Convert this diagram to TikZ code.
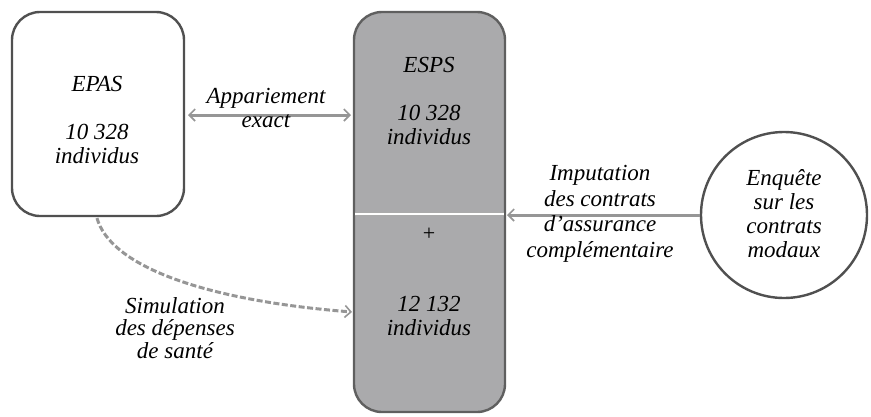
\documentclass[tikz,border=0pt]{standalone}
\usepackage{fontspec}
\setmainfont{Liberation Serif}
\usetikzlibrary{arrows.meta}
\definecolor{boxline}{RGB}{80,80,80}
\definecolor{espsfill}{RGB}{170,170,172}
\definecolor{espsline}{RGB}{95,95,95}
\definecolor{arrowgray}{RGB}{150,150,150}
\tikzset{
  lbl/.style={font=\fontsize{23}{24}\selectfont\itshape, align=center, inner sep=0pt},
  whitebox/.style={draw=boxline, line width=2.4pt, rounded corners=28pt, fill=white},
  graybox/.style={draw=espsline, line width=2.4pt, rounded corners=28pt, fill=espsfill},
  barb/.tip={Straight Barb[length=6pt,width=12pt,line width=1.6pt]},
  link/.style={draw=arrowgray, line width=3pt, -barb},
  dlink/.style={link, dash pattern=on 6pt off 2.5pt}
}
\begin{document}
\begin{tikzpicture}[x=1pt,y=-1pt]
\useasboundingbox (0,0) rectangle (871,416);
% boxes
\node[whitebox, minimum width=172pt, minimum height=204pt] (epas) at (98,114) {};
\node[graybox, minimum width=151pt, minimum height=400pt] (esps) at (429.5,212) {};
\node[draw=boxline, line width=2.4pt, circle, minimum size=166pt, fill=white] (enq) at (784,215) {};
% divider
\coordinate (dl) at (355,214);
\coordinate (dr) at (504,214);
\draw[draw=arrowgray!80, line width=1pt, double=white, double distance=1.6pt] (dl) -- (dr);
% texts
\node[lbl] (epast) at (97,120) {EPAS\\[24pt]10 328\\individus};
\node[lbl] (espst) at (429,101) {ESPS\\[24pt]10 328\\individus};
\node[lbl, font=\fontsize{22}{22}\selectfont] (plus) at (429,234) {+};
\node[lbl] (espsb) at (429,316) {12 132\\individus};
\node[lbl] (enqt) at (784,214) {Enquête\\sur les\\contrats\\modaux};
% connectors
\coordinate (a1) at (188,115);
\coordinate (a2) at (351,115);
\draw[link, barb-barb] (a1) -- (a2);
\coordinate (i2) at (507,215);
\draw[link] (enq.west) -- (i2);
\coordinate (s1) at (97,218);
\coordinate (s2) at (352,312);
\draw[dlink] (s1) .. controls (110,265) and (200,300) .. (s2);
% labels
\node[lbl] (appt) at (266,108) {Appariement\\exact};
\node[lbl, font=\fontsize{23}{25.5}\selectfont\itshape] (impt) at (600,214) {Imputation\\des contrats\\d’assurance\\complémentaire};
\node[lbl, font=\fontsize{23}{22.5}\selectfont\itshape] (simt) at (175,328) {Simulation\\des dépenses\\de santé};
\end{tikzpicture}
\end{document}
